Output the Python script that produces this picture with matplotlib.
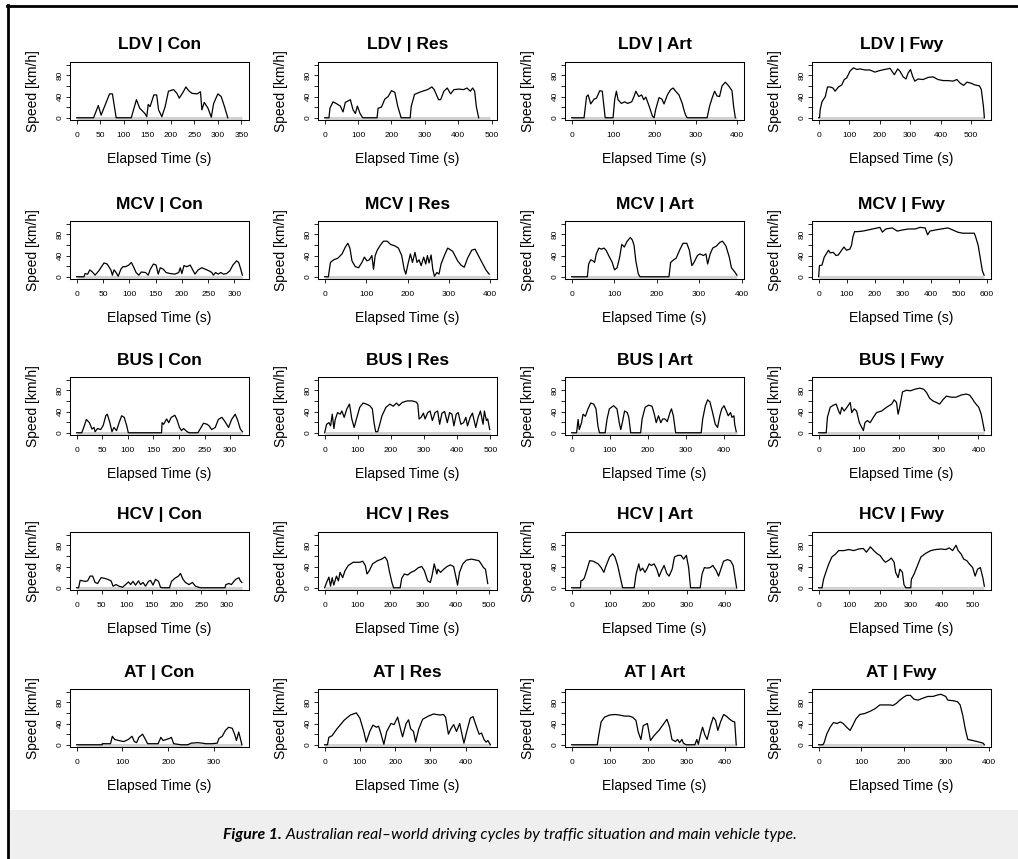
import numpy as np
import matplotlib
matplotlib.use("Agg")
import matplotlib.pyplot as plt
from matplotlib.patches import Rectangle
from matplotlib.lines import Line2D

vehicles = ["LDV", "MCV", "BUS", "HCV", "AT"]
situations = ["Con", "Res", "Art", "Fwy"]

# (elapsed time s, speed km/h)
ldv_con = [(0,0),(36,0),(46,23),(52,5),(70,45),(76,45),(84,0),(116,0),(127,34),(134,18),(145,8),(149,2),(152,25),(156,21),(164,43),(170,43),(174,15),(181,2),(188,21),(195,50),(206,53),(213,46),(218,37),(226,48),(232,58),(238,51),(245,46),(256,45),(263,49),(266,15),(271,29),(279,18),(286,1),(291,27),(300,45),(307,40),(314,21),(321,0)]
ldv_res = [(0,0),(13,0),(16,18),(25,30),(37,26),(47,22),(55,11),(62,29),(77,34),(85,15),(92,8),(98,22),(106,8),(114,0),(157,0),(160,18),(170,20),(180,35),(190,40),(200,51),(210,48),(219,21),(229,0),(256,0),(259,21),(269,44),(284,48),(298,51),(308,53),(321,58),(328,53),(341,34),(347,34),(357,50),(367,56),(377,45),(387,53),(402,54),(416,53),(426,56),(436,50),(443,56),(449,50),(454,21),(461,0)]
ldv_art = [(0,0),(30,0),(36,40),(40,43),(46,26),(54,35),(60,37),(68,51),(74,50),(78,21),(81,0),(100,0),(104,35),(108,50),(112,34),(120,27),(128,30),(135,27),(145,30),(151,41),(155,50),(162,40),(169,43),(174,34),(179,39),(187,22),(195,3),(199,0),(203,16),(211,38),(218,35),(223,26),(231,43),(239,53),(245,56),(251,50),(259,43),(267,27),(271,15),(275,5),(279,0),(327,0),(333,22),(339,37),(345,50),(351,41),(357,40),(363,60),(371,67),(379,60),(387,51),(391,21),(395,0)]
ldv_fwy = [(0,0),(3,0),(5,15),(11,30),(22,40),(29,58),(38,58),(47,56),(54,50),(65,58),(76,62),(84,72),(92,75),(103,88),(114,94),(125,91),(136,92),(152,90),(168,90),(184,86),(201,89),(217,91),(234,93),(248,81),(259,92),(266,88),(277,77),(286,73),(293,84),(301,91),(308,78),(315,69),(326,73),(342,72),(359,76),(375,77),(391,72),(408,70),(424,70),(440,69),(453,72),(464,65),(475,61),(486,67),(500,65),(511,62),(527,60),(533,53),(540,21),(543,0)]

mcv_con = [(0,0),(14,0),(16,6),(21,5),(25,13),(30,9),(35,3),(42,11),(46,17),(52,26),(58,24),(65,13),(68,3),(71,13),(75,8),(79,1),(84,14),(88,19),(93,19),(99,22),(104,27),(109,17),(113,8),(118,3),(123,9),(131,8),(136,3),(140,14),(146,24),(151,22),(155,5),(159,17),(165,14),(170,8),(178,6),(187,5),(194,8),(197,17),(200,6),(204,21),(209,19),(216,22),(220,14),(225,5),(231,13),(238,17),(245,14),(252,11),(257,8),(260,3),(264,8),(269,5),(274,8),(279,5),(285,6),(291,11),(297,22),(304,30),(308,27),(312,14),(315,3)]
mcv_res = [(0,0),(9,0),(14,27),(22,32),(32,35),(42,43),(50,56),(56,63),(61,54),(66,30),(74,19),(82,17),(90,27),(96,37),(102,30),(108,32),(114,40),(118,14),(122,40),(127,50),(134,59),(142,67),(151,67),(159,61),(170,58),(178,54),(186,40),(192,14),(196,5),(202,27),(207,43),(212,27),(218,46),(223,27),(228,32),(233,21),(239,37),(244,24),(248,40),(252,26),(257,41),(261,14),(265,1),(271,8),(276,5),(281,24),(289,40),(297,54),(309,48),(321,30),(329,22),(337,18),(345,35),(355,50),(363,52),(371,40),(381,25),(390,12),(397,5)]
mcv_art = [(0,0),(37,0),(40,24),(45,32),(50,30),(54,27),(58,43),(64,54),(70,52),(76,54),(81,50),(89,37),(95,28),(101,13),(107,17),(113,37),(118,61),(124,56),(130,66),(138,74),(143,69),(147,59),(151,30),(157,5),(161,0),(229,0),(233,27),(240,32),(246,35),(254,50),(262,63),(271,63),(277,50),(283,21),(288,27),(296,40),(302,43),(310,40),(316,43),(320,24),(326,43),(332,54),(341,58),(349,65),(355,67),(363,58),(371,37),(376,17),(384,9),(389,3)]
mcv_fwy = [(0,0),(3,21),(12,22),(20,37),(27,43),(35,50),(41,45),(52,46),(62,40),(70,41),(82,50),(90,56),(99,50),(111,52),(117,59),(122,75),(128,85),(140,85),(157,86),(175,88),(192,90),(210,92),(218,93),(227,84),(239,90),(262,92),(280,86),(297,88),(320,90),(344,90),(361,93),(379,92),(388,79),(396,86),(414,88),(437,90),(460,92),(478,88),(495,84),(513,82),(536,82),(554,82),(559,75),(568,59),(577,30),(583,11),(589,3)]

bus_con = [(0,0),(10,0),(15,13),(19,25),(25,19),(30,7),(34,10),(36,2),(41,8),(47,6),(52,14),(57,32),(60,35),(65,19),(69,2),(73,10),(78,4),(83,19),(88,32),(93,29),(98,13),(101,0),(166,0),(167,19),(170,16),(176,26),(180,19),(185,29),(192,33),(196,25),(201,10),(205,4),(209,8),(216,2),(220,0),(237,0),(242,8),(248,18),(255,16),(259,13),(264,6),(271,10),(277,25),(284,29),(290,21),(297,10),(303,25),(310,35),(315,23),(320,7),(324,2)]
bus_res = [(0,0),(6,16),(13,19),(18,13),(23,35),(28,8),(32,25),(39,38),(47,35),(52,41),(59,29),(67,45),(75,54),(82,26),(89,10),(96,26),(106,48),(116,56),(126,54),(136,51),(144,45),(149,19),(154,2),(160,2),(165,13),(173,32),(185,48),(197,54),(207,50),(217,56),(224,51),(234,57),(249,60),(264,60),(276,58),(281,54),(285,26),(291,29),(298,37),(303,26),(311,38),(318,41),(325,23),(333,38),(341,41),(347,16),(354,37),(362,40),(370,19),(377,38),(384,35),(390,13),(397,35),(403,38),(411,16),(419,19),(426,29),(431,13),(439,29),(446,37),(451,23),(456,10),(463,29),(470,41),(478,16),(482,41),(488,23),(492,26),(498,6)]
bus_art = [(0,0),(13,0),(17,25),(20,6),(26,19),(30,35),(36,31),(43,45),(50,56),(58,54),(64,45),(69,13),(73,0),(88,0),(93,26),(99,45),(110,51),(119,45),(125,19),(129,6),(133,19),(139,41),(146,38),(150,29),(155,0),(181,0),(185,26),(193,48),(202,52),(211,50),(217,35),(222,19),(228,32),(234,19),(239,26),(245,26),(251,21),(258,38),(262,45),(267,32),(273,0),(340,0),(344,26),(351,51),(357,62),(363,58),(370,38),(377,16),(383,10),(389,32),(394,45),(400,51),(406,41),(411,32),(417,38),(421,29),(426,32),(428,16),(432,2)]
bus_fwy = [(0,0),(19,0),(22,29),(29,48),(37,52),(44,54),(50,41),(54,35),(58,48),(64,41),(71,48),(79,57),(83,38),(89,45),(95,41),(102,19),(108,10),(112,4),(116,19),(122,23),(129,19),(137,29),(145,38),(158,41),(170,48),(183,54),(189,62),(195,57),(199,35),(203,48),(210,77),(220,80),(230,79),(241,82),(253,84),(263,82),(270,76),(278,65),(286,60),(295,57),(303,54),(311,62),(320,69),(332,67),(344,67),(357,71),(369,73),(378,71),(384,65),(390,58),(394,54),(401,48),(407,35),(412,16),(415,4)]

hcv_con = [(0,0),(4,0),(7,14),(12,13),(17,12),(22,13),(27,22),(32,22),(37,10),(42,8),(49,19),(55,18),(62,16),(69,13),(73,3),(79,6),(85,3),(92,1),(98,6),(104,11),(108,6),(113,12),(118,5),(124,13),(128,6),(133,10),(138,3),(144,12),(148,14),(153,5),(158,16),(164,12),(168,1),(172,0),(186,0),(190,12),(197,18),(204,22),(208,27),(213,16),(218,10),(225,6),(232,10),(238,3),(244,1),(248,0),(297,0),(299,6),(305,8),(310,6),(315,12),(319,16),(325,19),(328,13),(331,10)]
hcv_res = [(0,0),(6,10),(13,20),(18,3),(23,19),(28,5),(36,22),(42,13),(47,29),(55,19),(62,32),(72,42),(87,48),(107,48),(116,50),(124,42),(129,26),(136,32),(146,45),(161,51),(174,54),(184,58),(191,51),(197,32),(205,10),(210,0),(230,0),(235,18),(243,26),(253,24),(263,29),(274,32),(286,38),(296,40),(304,32),(314,13),(322,10),(327,22),(334,45),(342,26),(345,35),(353,29),(363,35),(373,40),(383,43),(393,40),(398,26),(405,5),(411,29),(421,45),(432,52),(447,54),(462,52),(470,51),(477,45),(484,38),(490,35),(497,8)]
hcv_art = [(0,0),(23,0),(24,13),(28,14),(33,18),(39,32),(47,51),(56,50),(69,45),(77,38),(84,29),(90,42),(99,58),(107,64),(113,58),(120,42),(127,19),(133,0),(163,0),(168,26),(175,45),(179,32),(185,37),(191,29),(196,35),(202,45),(208,42),(215,45),(222,35),(228,21),(234,32),(241,42),(248,27),(254,22),(262,35),(268,58),(277,61),(285,61),(292,54),(299,61),(305,38),(310,0),(335,0),(340,26),(346,38),(353,37),(361,38),(368,42),(377,32),(383,22),(389,35),(396,50),(406,53),(414,51),(421,42),(426,19),(430,0)]
hcv_fwy = [(0,0),(11,0),(16,16),(25,32),(33,45),(43,58),(54,63),(65,70),(82,70),(98,72),(114,70),(130,73),(145,74),(155,67),(168,77),(179,70),(190,64),(199,61),(210,52),(217,48),(228,52),(236,56),(245,48),(250,29),(258,19),(264,35),(272,29),(277,6),(283,0),(299,0),(301,16),(310,26),(321,42),(332,58),(348,65),(364,70),(380,72),(397,73),(413,72),(424,75),(435,70),(446,80),(453,70),(462,64),(471,54),(481,51),(489,45),(500,38),(508,22),(516,35),(525,38),(533,19),(538,3)]

at_con = [(0,0),(56,0),(56,2),(74,2),(78,16),(83,10),(92,8),(103,6),(113,10),(121,16),(126,6),(131,4),(136,14),(144,20),(149,12),(155,2),(178,2),(184,14),(189,8),(196,10),(203,12),(207,14),(212,2),(228,0),(243,0),(250,3),(264,4),(275,3),(282,2),(296,2),(307,3),(311,12),(318,16),(325,27),(332,33),(340,31),(345,20),(349,8),(354,24),(357,14),(361,0)]
at_res = [(0,0),(8,0),(12,14),(21,17),(35,30),(55,46),(73,56),(90,60),(100,50),(111,25),(118,5),(128,25),(137,37),(147,33),(153,35),(160,20),(168,1),(176,25),(188,40),(197,38),(207,52),(215,30),(221,15),(231,40),(238,47),(244,30),(252,25),(258,5),(267,30),(278,48),(294,54),(309,58),(327,56),(337,57),(343,52),(351,20),(358,30),(366,38),(374,25),(383,40),(391,15),(395,3),(403,25),(413,50),(421,53),(430,35),(438,20),(445,22),(452,10),(458,5),(463,8),(470,0)]
at_art = [(0,0),(67,0),(70,14),(77,43),(86,52),(99,56),(112,57),(125,56),(138,54),(150,54),(159,52),(168,46),(174,24),(181,10),(187,36),(198,40),(202,24),(206,8),(215,17),(228,27),(241,40),(249,48),(256,33),(262,10),(271,6),(277,10),(282,4),(288,10),(292,3),(299,0),(322,0),(327,10),(331,1),(337,20),(342,33),(348,19),(354,10),(363,36),(370,52),(376,46),(382,27),(389,43),(397,57),(404,54),(413,48),(421,44),(426,43),(430,0)]
at_fwy = [(0,0),(10,0),(13,4),(19,20),(27,33),(35,42),(43,40),(51,43),(58,40),(66,33),(74,27),(80,36),(88,49),(97,57),(109,59),(121,63),(133,68),(144,75),(156,75),(168,75),(175,74),(183,78),(191,84),(199,89),(207,93),(216,93),(224,86),(234,84),(246,88),(257,91),(269,91),(281,94),(288,95),(299,91),(304,84),(316,83),(327,81),(333,75),(339,56),(345,30),(351,10),(363,8),(378,5),(387,3),(390,0)]

traces = [ldv_con, ldv_res, ldv_art, ldv_fwy,
          mcv_con, mcv_res, mcv_art, mcv_fwy,
          bus_con, bus_res, bus_art, bus_fwy,
          hcv_con, hcv_res, hcv_art, hcv_fwy,
          at_con, at_res, at_art, at_fwy]

# length of each cycle (s) and x tick step
durations = [352, 496, 400, 543, 315, 400, 390, 590, 324, 500, 435, 415,
             332, 505, 432, 538, 362, 470, 433, 390]
tick_steps = [50, 100, 100, 100, 50, 100, 100, 100, 50, 100, 100, 100,
              50, 100, 100, 100, 100, 100, 100, 100]

caption_bold = "Figure 1."
caption_rest = " Australian real\u2013world driving cycles by traffic situation and main vehicle type."

W, H = 1018, 859
plt.rcParams['font.family'] = ['Liberation Sans', 'DejaVu Sans']
fig = plt.figure(figsize=(W / 100, H / 100), dpi=100)

col_left = [70, 318, 565, 812]
row_top = [62, 221, 377, 532, 689]
box_w, box_h = 179, 58

for i, veh in enumerate(vehicles):
    for j, sit in enumerate(situations):
        k = i * 4 + j
        T = durations[k]
        t, v = zip(*traces[k])
        ax = fig.add_axes([col_left[j] / W, (H - row_top[i] - box_h) / H, box_w / W, box_h / H])
        ax.plot([0, T], [0, 0], color='#d2d2d2', lw=2.2, solid_capstyle='butt', zorder=1)
        ax.plot(t, v, color='black', lw=0.9, zorder=2)
        ax.set_xlim(-0.04 * T, 1.04 * T)
        ax.set_ylim(-4.2, 105)
        ax.set_xticks(np.arange(0, 1.04 * T, tick_steps[k]))
        ax.set_yticks([0, 20, 40, 60, 80, 100])
        ax.set_yticklabels(['0', '', '40', '', '80', ''], rotation=90, va='center')
        ax.tick_params(axis='both', direction='out', length=3, width=0.6, labelsize=6)
        ax.tick_params(axis='x', pad=5.5)
        ax.tick_params(axis='y', pad=1.5)
        for s in ax.spines.values():
            s.set_linewidth(0.75)
        ax.set_title(f"{veh} | {sit}", fontsize=12.5, fontweight='bold', pad=9)
        xl = ax.set_xlabel("Elapsed Time (s)", fontsize=10)
        xl.set_va('center')
        ax.xaxis.set_label_coords(0.5, -39 / box_h)
        yl = ax.set_ylabel("Speed [km/h]", fontsize=10)
        yl.set_va('center')
        ax.yaxis.set_label_coords(-37 / box_w, 0.5)

# frame and caption band
fig.add_artist(Rectangle((9 / W, 0), 1 - 9 / W, 49 / H, transform=fig.transFigure,
                         facecolor='#efefef', edgecolor='none', zorder=0))
fig.add_artist(Line2D([8 / W, 8 / W], [0, 1 - 5 / H], transform=fig.transFigure, color='black', lw=2))
fig.add_artist(Line2D([7 / W, 1], [1 - 6 / H, 1 - 6 / H], transform=fig.transFigure, color='black', lw=2))

cap_y = 1 - 835 / H
fs = 12
t1 = fig.text(0, cap_y, caption_bold, fontsize=fs, family='Lato', style='italic', weight='bold', va='center')
t2 = fig.text(0, cap_y, caption_rest, fontsize=fs, family='Lato', style='italic', va='center')
r = fig.canvas.get_renderer()
w1 = t1.get_window_extent(r).width
w2 = t2.get_window_extent(r).width
scale = 570 / (w1 + w2)
t1.set_fontsize(fs * scale)
t2.set_fontsize(fs * scale)
w1 = t1.get_window_extent(r).width
w2 = t2.get_window_extent(r).width
x0 = 510 - (w1 + w2) / 2
t1.set_x(x0 / W)
t2.set_x((x0 + w1) / W)

fig.savefig("out.png", dpi=100)
